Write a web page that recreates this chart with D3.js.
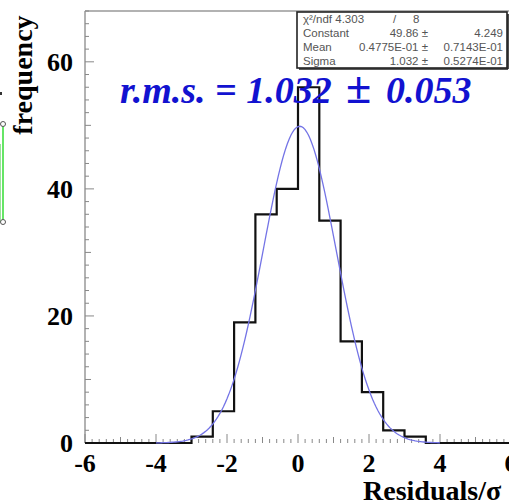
<!DOCTYPE html>
<html><head><meta charset="utf-8">
<script src="https://cdn.jsdelivr.net/npm/d3@7"></script>
<style>html,body{margin:0;padding:0;background:#fff;overflow:hidden}</style>
</head><body><svg id="c" width="509" height="502"></svg>
<script>
// ---- data ----
const binEdges = [-6,-5.4,-4.8,-4.2,-3.6,-3.0,-2.4,-1.8,-1.2,-0.6,0,0.6,1.2,1.8,2.4,3.0,3.6,4.2,4.8,5.4,6];
const binCounts = [0,0,0,0,0,1,5,19,36,40,56,35,16,8,2,1,0,0,0,0];
const xTicks = [-6,-4,-2,0,2,4,6];
const yTicks = [0,20,40,60];
const fitConstant = 49.86, fitMean = 0.04775, fitSigma = 1.032;
const statsRows = [
  ["χ²/ndf 4.303", "/", "8"],
  ["Constant", "49.86 ±", "4.249"],
  ["Mean", "0.4775E-01 ±", "0.7143E-01"],
  ["Sigma", "1.032 ±", "0.5274E-01"]
];
const rmsParts = ["r.m.s. = 1.032", "\u00b1", "0.053"];
const neighborPoints = [0.9, 0.2]; // fragment of adjacent panel (relative heights)

// ---- layout ----
const svg = d3.select("#c");
const x = d3.scaleLinear().domain([-6, 6]).range([85, 511]);
const y = d3.scaleLinear().domain([0, 68]).range([443, 11]);

// frame
svg.append("line").attr("x1", x(-6)).attr("x2", 511).attr("y1", y(68)).attr("y2", y(68))
  .attr("stroke", "#999").attr("stroke-width", 1.5);
svg.append("line").attr("x1", x(-6)).attr("x2", x(-6)).attr("y1", y(68)).attr("y2", y(0))
  .attr("stroke", "#999").attr("stroke-width", 1.5);

// y ticks
const yMinor = d3.range(0, 68.01, 2);
svg.append("g").selectAll("line").data(yMinor).join("line")
  .attr("x1", x(-6)).attr("x2", d => x(-6) + (d % 20 === 0 ? 9 : d % 10 === 0 ? 6 : 4))
  .attr("y1", d => y(d)).attr("y2", d => y(d))
  .attr("stroke", "#888").attr("stroke-width", 1);
// x ticks
const xMinor = d3.range(-6, 6.001, 0.2).map(v => Math.round(v * 10) / 10);
svg.append("g").selectAll("line").data(xMinor).join("line")
  .attr("x1", d => x(d)).attr("x2", d => x(d))
  .attr("y1", y(0)).attr("y2", d => y(0) - (Math.abs(d % 2) < 1e-6 ? 9 : Math.abs(d % 1) < 1e-6 ? 6 : 4))
  .attr("stroke", "#888").attr("stroke-width", 1);

// histogram
const histPts = [[binEdges[0], 0]];
binCounts.forEach((c, i) => { histPts.push([binEdges[i], c]); histPts.push([binEdges[i + 1], c]); });
histPts.push([binEdges[binEdges.length - 1], 0]);
svg.append("path").datum(histPts)
  .attr("d", d3.line().x(d => x(d[0])).y(d => y(d[1])))
  .attr("fill", "none").attr("stroke", "#111").attr("stroke-width", 2.2);

// gaussian fit
const gx = d3.range(-4, 4.001, 0.05);
svg.append("path").datum(gx)
  .attr("d", d3.line().x(d => x(d)).y(d => y(fitConstant * Math.exp(-0.5 * Math.pow((d - fitMean) / fitSigma, 2)))))
  .attr("fill", "none").attr("stroke", "#7474e6").attr("stroke-width", 1.3);

// tick labels
const serif = "'Liberation Serif','Times New Roman',serif";
svg.append("g").selectAll("text").data(xTicks).join("text")
  .attr("x", d => x(d)).attr("y", 472).attr("text-anchor", "middle")
  .attr("font-family", serif).attr("font-weight", "bold").attr("font-size", 26)
  .text(d => d);
svg.append("g").selectAll("text").data(yTicks).join("text")
  .attr("x", 73).attr("y", d => y(d) + 9).attr("text-anchor", "end")
  .attr("font-family", serif).attr("font-weight", "bold").attr("font-size", 26)
  .text(d => d);

// axis titles
svg.append("text").attr("transform", "translate(32,75) rotate(-90)")
  .attr("text-anchor", "middle").attr("font-family", serif).attr("font-weight", "bold")
  .attr("font-size", 28).text("frequency");
svg.append("text").attr("x", 363).attr("y", 500)
  .attr("font-family", serif).attr("font-weight", "bold").attr("font-size", 28)
  .text("Residuals/σ");

// stats box
const bx0 = 297, by0 = 12, bx1 = 507, by1 = 68;
svg.append("rect").attr("x", bx0).attr("y", by0).attr("width", bx1 - bx0).attr("height", by1 - by0)
  .attr("fill", "#fff").attr("stroke", "#222").attr("stroke-width", 1.6);
svg.append("line").attr("x1", bx0 + 2).attr("x2", bx1 + 1).attr("y1", by1 + 1).attr("y2", by1 + 1).attr("stroke", "#222").attr("stroke-width", 1.6);
svg.append("line").attr("x1", bx1 + 1).attr("x2", bx1 + 1).attr("y1", by0 + 2).attr("y2", by1 + 1).attr("stroke", "#222").attr("stroke-width", 1.6);
const sans = "'Liberation Sans',Arial,sans-serif";
const rowY = [23, 37, 51, 65];
const sg = svg.append("g").attr("font-family", sans).attr("font-size", 11.5).attr("fill", "#555");
statsRows.forEach((r, i) => {
  if (i === 0) {
    sg.append("text").attr("x", 303).attr("y", rowY[i]).text(r[0]);
    sg.append("text").attr("x", 393).attr("y", rowY[i]).text(r[1]);
    sg.append("text").attr("x", 413).attr("y", rowY[i]).text(r[2]);
  } else {
    sg.append("text").attr("x", 303).attr("y", rowY[i]).text(r[0]);
    sg.append("text").attr("x", 428).attr("y", rowY[i]).attr("text-anchor", "end").text(r[1]);
    sg.append("text").attr("x", 503).attr("y", rowY[i]).attr("text-anchor", "end").text(r[2]);
  }
});

// r.m.s. annotation
const rms = svg.append("text").attr("y", 103)
  .attr("font-family", serif).attr("font-weight", "bold").attr("font-style", "italic")
  .attr("font-size", 38).attr("fill", "#1212d0");
rms.append("tspan").attr("x", 120).text(rmsParts[0]);
rms.append("tspan").attr("x", 346).attr("font-style", "normal").attr("font-size", 46).text(rmsParts[1]);
rms.append("tspan").attr("x", 386).text(rmsParts[2]);

// fragment of neighbouring panel at left edge
const ny = d3.scaleLinear().domain([0, 1]).range([250, 110]);
svg.append("line").attr("x1", 3).attr("x2", 3).attr("y1", ny(neighborPoints[0])).attr("y2", ny(neighborPoints[1]))
  .attr("stroke", "#33dd33").attr("stroke-width", 1.5);
svg.append("line").attr("x1", 0.5).attr("x2", 0.5).attr("y1", ny(neighborPoints[0]) + 20).attr("y2", ny(neighborPoints[1]))
  .attr("stroke", "#9be39b").attr("stroke-width", 1);
svg.append("g").selectAll("circle").data(neighborPoints).join("circle")
  .attr("cx", 3).attr("cy", d => ny(d)).attr("r", 2.5)
  .attr("fill", "#fff").attr("stroke", "#555").attr("stroke-width", 1);
svg.append("rect").attr("x", 0).attr("y", 92).attr("width", 2).attr("height", 3).attr("fill", "#333");
</script></body></html>
